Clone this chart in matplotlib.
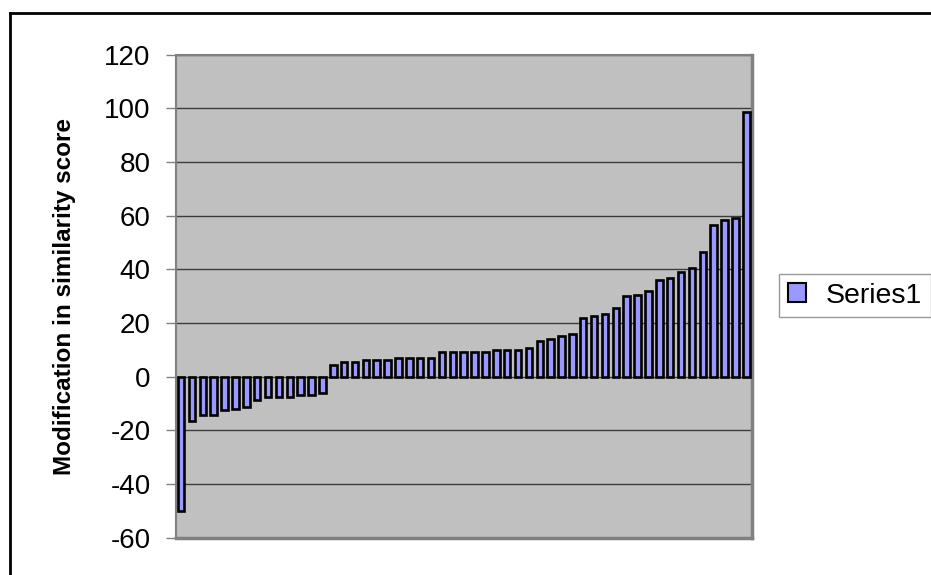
import matplotlib
matplotlib.use("Agg")
import matplotlib.pyplot as plt
from matplotlib.lines import Line2D
from matplotlib.patches import Patch

plt.rcParams['font.family'] = ['Liberation Sans', 'DejaVu Sans']

# change in similarity score per item, sorted ascending
scores = [-50, -16.4, -14.2, -14.2, -12.6, -11.9, -11.2, -8.8, -7.5, -7.5,
          -7.5, -6.7, -6.7, -6.0, 4.5, 5.3, 5.3, 6.1, 6.1, 6.1,
          6.8, 6.8, 6.8, 6.8, 9.1, 9.1, 9.1, 9.1, 9.1, 10.0,
          10.0, 10.0, 10.6, 13.4, 14.2, 15.2, 15.8, 21.8, 22.5, 23.3,
          25.4, 29.9, 30.6, 32.1, 35.9, 36.6, 38.9, 40.4, 46.5, 56.6,
          58.3, 59.0, 98.5]
yticks = [-60, -40, -20, 0, 20, 40, 60, 80, 100, 120]
series_name = "Series1"

fig = plt.figure(figsize=(9.31, 5.75), dpi=100)
ax = fig.add_axes([0.1887, 0.0649, 0.6187, 0.8401])
ax.set_facecolor('#c0c0c0')

x = range(len(scores))
ax.bar(x, scores, width=0.6, color='#9999ff', edgecolor='black',
       linewidth=1.9, zorder=3)

ax.set_xlim(-0.5, len(scores) - 0.5)
ax.set_ylim(yticks[0], yticks[-1])
ax.set_yticks(yticks)
ax.set_yticklabels([str(t) for t in yticks], fontsize=20)
ax.set_xticks([])
ax.tick_params(axis='y', direction='out', length=7, width=1,
               color='#808080', pad=11)
ax.grid(axis='y', color='#3c3c3c', linewidth=1, zorder=1)

for side in ['top', 'right', 'bottom', 'left']:
    ax.spines[side].set_color('#808080')
    ax.spines[side].set_linewidth(1.5)
ax.spines['right'].set_linewidth(2.5)
ax.spines['bottom'].set_linewidth(2.5)

ax.set_ylabel("Modification in similarity score", fontsize=17.5,
              fontweight='bold', labelpad=20)

handle = Patch(facecolor='#9999ff', edgecolor='black', linewidth=1.5)
fig.legend([handle], [series_name], loc='upper left',
           bbox_to_anchor=(779 / 931, 1 - 274 / 575), fontsize=20.5,
           frameon=True, fancybox=False, edgecolor='#808080',
           handlelength=0.65, handleheight=0.65, handletextpad=0.7,
           borderpad=0.3, borderaxespad=0)

# chart frame (runs past the right and bottom edges)
fig.add_artist(Line2D([10 / 931, 10 / 931], [-0.1, 1 - 13 / 575],
                      transform=fig.transFigure, color='black', linewidth=2))
fig.add_artist(Line2D([10 / 931, 1.1], [1 - 13 / 575, 1 - 13 / 575],
                      transform=fig.transFigure, color='black', linewidth=2))

fig.savefig('out.png', dpi=100)
